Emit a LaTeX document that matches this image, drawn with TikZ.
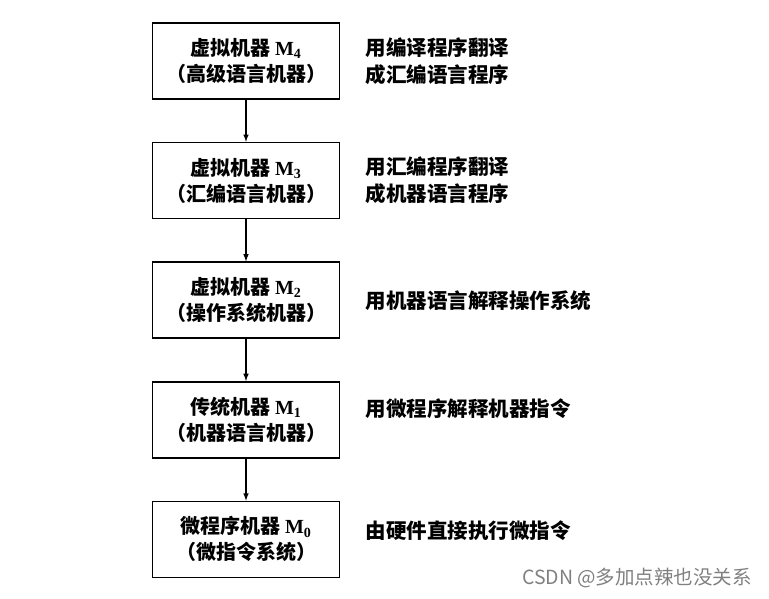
\documentclass[tikz,border=0pt]{standalone}
\usepackage{fontspec}
\newfontfamily\cjk{Noto Sans CJK SC}
\newfontfamily\latinf{Liberation Serif}
\usetikzlibrary{positioning,arrows}

\newcommand{\mach}[1]{{\latinf\bfseries M\textsubscript{#1}}}

\begin{document}
\begin{tikzpicture}[
  machine/.style={draw, line width=1.6pt, minimum width=187pt, minimum height=76pt,
    align=center, font=\cjk\bfseries\fontsize{20}{26}\selectfont},
  note/.style={align=left, anchor=west, font=\cjk\bfseries\fontsize{20.5}{27}\selectfont},
  node distance=42pt
]
  \useasboundingbox (0,0) rectangle (769pt,-598pt);

  \node[machine] (m4) at (246pt,-61pt) {虚拟机器 \mach{4}\\（高级语言机器）};
  \node[machine] (m3) [below=of m4] {虚拟机器 \mach{3}\\（汇编语言机器）};
  \node[machine] (m2) [below=of m3] {虚拟机器 \mach{2}\\（操作系统机器）};
  \node[machine] (m1) [below=of m2] {传统机器 \mach{1}\\（机器语言机器）};
  \node[machine] (m0) [below=of m1] {微程序机器 \mach{0}\\（微指令系统）};

  \node[note] (n4) [right=22pt of m4.east] {用编译程序翻译\\成汇编语言程序};
  \node[note] (n3) [right=22pt of m3.east] {用汇编程序翻译\\成机器语言程序};
  \node[note] (n2) [right=22pt of m2.east] {用机器语言解释操作系统};
  \node[note] (n1) [right=22pt of m1.east, yshift=11pt] {用微程序解释机器指令};
  \node[note] (n0) [right=22pt of m0.east, yshift=9pt] {由硬件直接执行微指令};

  \path[-latex, line width=1.5pt] (m4) edge (m3);
  \path[-latex, line width=1.5pt] (m3) edge (m2);
  \path[-latex, line width=1.5pt] (m2) edge (m1);
  \path[-latex, line width=1.5pt] (m1) edge (m0);

  \node[text=gray, font=\cjk\fontsize{19.5}{22}\selectfont] (mark) at (637pt,-578pt) {CSDN @多加点辣也没关系};

\end{tikzpicture}
\end{document}
